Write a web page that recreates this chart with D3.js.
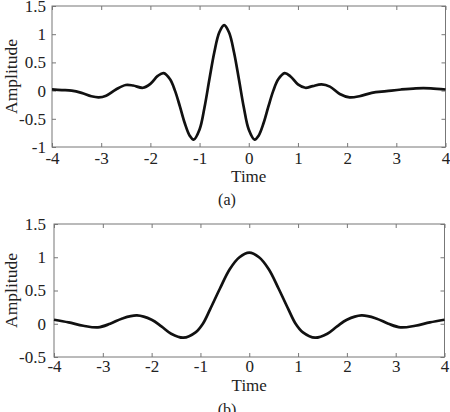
<!DOCTYPE html>
<html>
<head>
<meta charset="utf-8">
<script src="https://cdn.jsdelivr.net/npm/d3@7"></script>
<style>
  body { margin: 0; background: #fff; }
  text { font-family: "Liberation Serif", "Times New Roman", serif; fill: #222; }
  .frame { fill: none; stroke: #777; stroke-width: 1; }
  .tick line { stroke: #777; }
  .wave { fill: none; stroke: #111; stroke-width: 2.7; stroke-linejoin: round; }
</style>
</head>
<body>
<svg id="chart" width="450" height="412"></svg>
<script>
// panel (a) wavelet
var timeA = [-4.0, -3.8, -3.6, -3.4, -3.2, -3.05, -2.9, -2.7, -2.5, -2.35, -2.15, -2.0, -1.85, -1.73, -1.6,
    -1.5, -1.4, -1.3, -1.2, -1.12, -1.0, -0.9, -0.8, -0.7, -0.6, -0.5, -0.4, -0.3, -0.2, -0.1,
    0.0, 0.12, 0.2, 0.3, 0.4, 0.5, 0.6, 0.73, 0.85, 1.0, 1.15, 1.3, 1.48, 1.65, 1.85,
    2.05, 2.25, 2.5, 2.8, 3.1, 3.4, 3.7, 4.0];
var ampA = [0.02, 0.01, 0.0, -0.04, -0.10, -0.12, -0.09, 0.02, 0.10, 0.09, 0.05, 0.12, 0.26, 0.31, 0.20,
    0.0, -0.28, -0.58, -0.80, -0.87, -0.69, -0.30, 0.20, 0.68, 1.03, 1.16, 1.03, 0.68, 0.20, -0.30,
    -0.69, -0.87, -0.80, -0.58, -0.28, 0.0, 0.20, 0.31, 0.25, 0.11, 0.05, 0.08, 0.11, 0.07, -0.06,
    -0.12, -0.10, -0.04, -0.01, 0.02, 0.04, 0.04, 0.02];

// panel (b) wavelet
var timeB = [-4.0, -3.7, -3.4, -3.1, -2.85, -2.6, -2.3, -2.0, -1.8, -1.6, -1.35, -1.1, -0.95, -0.8, -0.6,
    -0.4, -0.2, 0.0, 0.2, 0.4, 0.6, 0.8, 0.95, 1.1, 1.35, 1.6, 1.8, 2.0, 2.3, 2.6, 2.85, 3.1, 3.4, 3.7, 4.0];
var ampB = [0.06, 0.02, -0.03, -0.055, 0.0, 0.08, 0.125, 0.06, -0.04, -0.15, -0.21, -0.13, 0.0, 0.22, 0.53,
    0.82, 1.0, 1.07, 1.0, 0.82, 0.53, 0.22, 0.0, -0.13, -0.21, -0.15, -0.04, 0.06, 0.125, 0.08, 0.0, -0.055, -0.03, 0.02, 0.06];

var timeTicks = [-4, -3, -2, -1, 0, 1, 2, 3, 4];
var ampTicksA = [-1, -0.5, 0, 0.5, 1, 1.5];
var ampTicksB = [-0.5, 0, 0.5, 1, 1.5];

var svg = d3.select("#chart");

function drawPanel(p) {
    var w = p.right - p.left, h = p.bottom - p.top;
    var g = svg.append("g").attr("transform", "translate(" + p.left + "," + p.top + ")");

    var x = d3.scaleLinear().domain([-4, 4]).range([0, w]);
    var y = d3.scaleLinear().domain(p.yDomain).range([h, 0]);
    var fmt = function(d) { return String(d); };

    // bottom axis with labels, ticks pointing inward
    g.append("g")
        .attr("transform", "translate(0," + h + ")")
        .call(d3.axisBottom(x).tickValues(timeTicks).tickFormat(fmt).tickSize(-4).tickPadding(p.xPad))
        .call(a => a.select(".domain").remove())
        .selectAll("text").style("font-size", "17px").attr("fill", "#222");

    g.append("g")
        .call(d3.axisTop(x).tickValues(timeTicks).tickFormat("").tickSize(-4))
        .call(a => a.select(".domain").remove());

    g.append("g")
        .call(d3.axisLeft(y).tickValues(p.yTicks).tickFormat(fmt).tickSize(-4).tickPadding(p.yPad))
        .call(a => a.select(".domain").remove())
        .selectAll("text").style("font-size", "17px").attr("fill", "#222");

    g.append("g")
        .attr("transform", "translate(" + w + ",0)")
        .call(d3.axisRight(y).tickValues(p.yTicks).tickFormat("").tickSize(-4))
        .call(a => a.select(".domain").remove());

    g.append("rect")
        .attr("class", "frame")
        .attr("width", w)
        .attr("height", h);

    var line = d3.line()
        .x(function(d, i) { return x(p.time[i]); })
        .y(function(d) { return y(d); })
        .curve(d3.curveCatmullRom.alpha(0.5));

    g.append("path")
        .attr("class", "wave")
        .attr("d", line(p.amp));

    // axis titles
    g.append("text")
        .attr("x", x(0))
        .attr("y", h + p.titleY)
        .attr("text-anchor", "middle")
        .style("font-size", "17px")
        .text("Time");

    g.append("text")
        .attr("transform", "translate(" + (17 - p.left) + "," + (h / 2) + ") rotate(-90)")
        .attr("text-anchor", "middle")
        .style("font-size", "17.5px")
        .text("Amplitude");

    g.append("text")
        .attr("x", 227 - p.left)
        .attr("y", h + 58)
        .attr("text-anchor", "middle")
        .style("font-size", "16px")
        .text(p.caption);
}

drawPanel({ left: 52, right: 445.5, top: 6, bottom: 147, yDomain: [-1, 1.5], yTicks: ampTicksA,
    time: timeA, amp: ampA, xPad: 5, yPad: 6, titleY: 35, caption: "(a)" });
drawPanel({ left: 54, right: 444.5, top: 224, bottom: 357, yDomain: [-0.5, 1.5], yTicks: ampTicksB,
    time: timeB, amp: ampB, xPad: 3, yPad: 8, titleY: 34, caption: "(b)" });
</script>
</body>
</html>
